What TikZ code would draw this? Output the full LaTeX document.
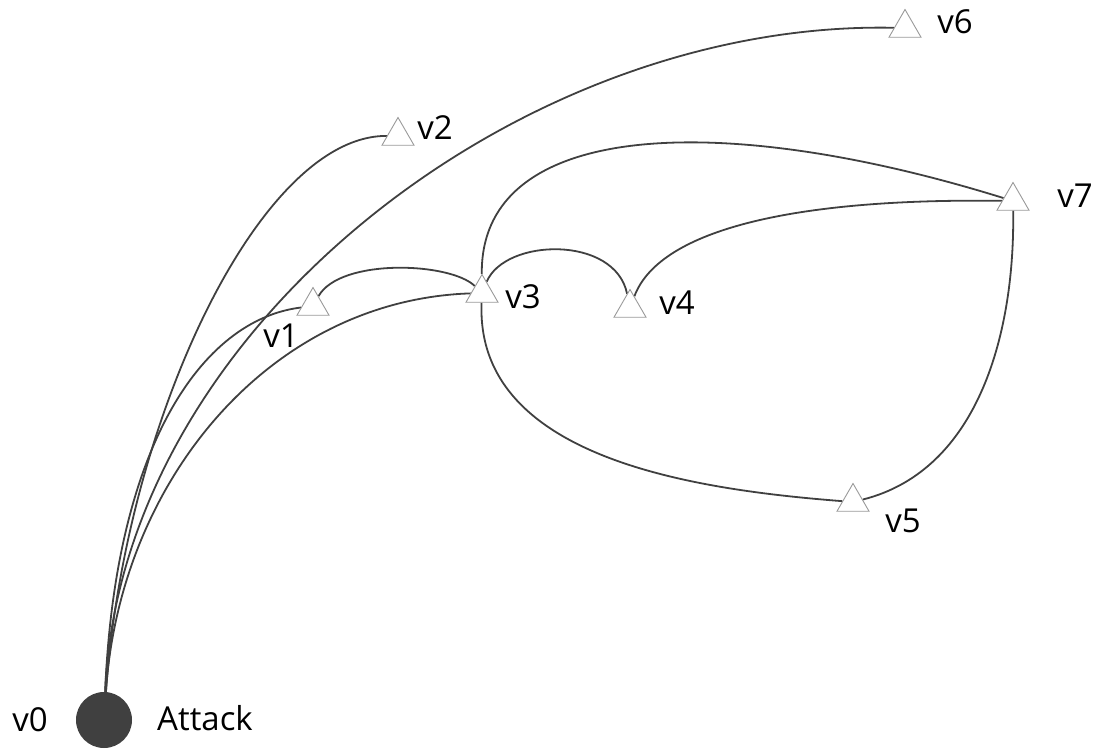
\documentclass[tikz,border=0pt]{standalone}
\usepackage{fontspec}
\setmainfont{Open Sans}
\usetikzlibrary{shapes.geometric}
\definecolor{edgec}{HTML}{404040}
\definecolor{trig}{HTML}{9A9A9A}
\pgfdeclarelayer{bg}
\pgfsetlayers{bg,main}
\tikzset{
  tri/.style={regular polygon, regular polygon sides=3, minimum size=37pt, inner sep=0pt, draw=trig, fill=white, line width=0.9pt},
  attack/.style={circle, fill=edgec, minimum size=56pt, inner sep=0pt},
  lbl/.style={font=\fontsize{33}{35}\selectfont, text=black, inner sep=0pt},
  link/.style={draw=edgec, line width=1.8pt}
}
\begin{document}
\begin{tikzpicture}[x=1pt, y=-1pt]
\useasboundingbox (0,0) rectangle (1102,751);
% nodes
\node[attack] (v0) at (104,720) {};
\node[tri] (v1) at (313,306) {};
\node[tri] (v2) at (398,136) {};
\node[tri] (v3) at (482,293) {};
\node[tri] (v4) at (630,308) {};
\node[tri] (v5) at (853,502) {};
\node[tri] (v6) at (905,28) {};
\node[tri] (v7) at (1013,201) {};
% edges (behind the triangles)
\begin{pgfonlayer}{bg}
\path[link] (v0) .. controls (125,420) and (260,135) .. (v2);
\path[link] (v0) .. controls (120,330) and (520,20) .. (v6);
\path[link] (v0) .. controls (115,450) and (200,320) .. (v1);
\path[link] (v0) .. controls (120,480) and (270,300) .. (v3);
\path[link] (v1) .. controls (340,258) and (450,262) .. (v3);
\path[link] (v3) .. controls (505,238) and (615,235) .. (v4);
\path[link] (v3) .. controls (480,120) and (720,110) .. (v7);
\path[link] (v4) .. controls (660,228) and (800,198) .. (v7);
\path[link] (v3) .. controls (475,460) and (700,490) .. (v5);
\path[link] (v5) .. controls (980,470) and (1015,330) .. (v7);
\end{pgfonlayer}
% labels
\node[lbl] (l0) at (30,720) {v0};
\node[lbl] (la) at (205,718) {Attack};
\node[lbl] (l1) at (281,336) {v1};
\node[lbl] (l2) at (435,128) {v2};
\node[lbl] (l3) at (523,297) {v3};
\node[lbl] (l4) at (677,303) {v4};
\node[lbl] (l5) at (903,521) {v5};
\node[lbl] (l6) at (955,22) {v6};
\node[lbl] (l7) at (1075,196) {v7};
\end{tikzpicture}
\end{document}
